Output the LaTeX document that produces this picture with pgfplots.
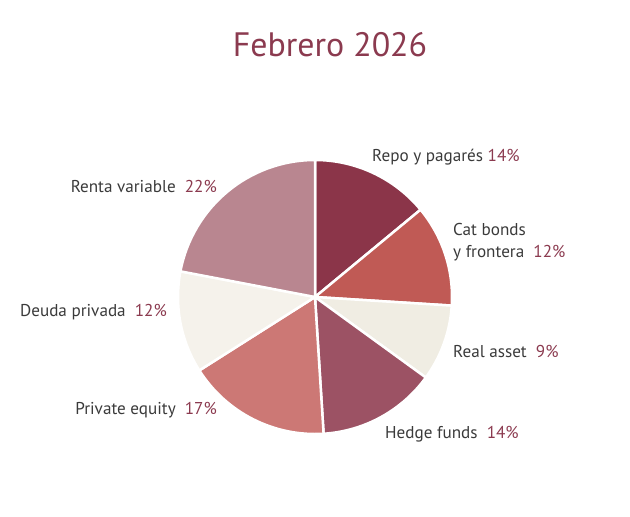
\documentclass[border=0pt]{standalone}
\usepackage{pgfplots}
\usepackage{pgfplotstable}
\pgfplotsset{compat=1.18}
\usepackage{fontspec}
\setmainfont{PT Sans}

\definecolor{cRepo}{HTML}{8B3549}
\definecolor{cCat}{HTML}{C05A55}
\definecolor{cReal}{HTML}{F0EDE3}
\definecolor{cHedge}{HTML}{9C5264}
\definecolor{cPriv}{HTML}{CC7875}
\definecolor{cDeuda}{HTML}{F5F2EB}
\definecolor{cRenta}{HTML}{B98690}
\definecolor{cTitle}{HTML}{8B3A4F}
\definecolor{cText}{HTML}{3A3A3A}

% share of each asset class, clockwise from 12 o'clock
\pgfplotstableread[col sep=comma]{
share,color
14,cRepo
12,cCat
9,cReal
14,cHedge
17,cPriv
12,cDeuda
22,cRenta
}\piedata

\newcommand{\pct}[1]{{\color{cTitle}#1\%}}
\tikzset{lbl/.style={text=cText, font=\fontsize{17.2}{22}\selectfont, inner sep=0pt}}

\begin{document}
\begin{tikzpicture}
\begin{axis}[
	scale only axis,
	width=630bp, height=516bp,
	xmin=0, xmax=630, ymin=0, ymax=516,
	y dir=reverse,
	hide axis,
	clip=false,
]
	\addplot[draw=none] coordinates {(0,0) (630,516)};

	\pgfplotstablegetrowsof{\piedata}
	\pgfmathtruncatemacro\lastrow{\pgfplotsretval-1}
	\def\angacc{90}
	\pgfplotsforeachungrouped \i in {0,...,\lastrow}{
		\pgfplotstablegetelem{\i}{share}\of\piedata \let\sh\pgfplotsretval
		\pgfplotstablegetelem{\i}{color}\of\piedata \let\col\pgfplotsretval
		\pgfmathsetmacro\angnext{\angacc-3.6*\sh}
		\edef\temp{\noexpand\fill[fill=\col, draw=white, line width=2.5bp, line join=round]
			(axis cs:315,297) -- ([shift={(\angacc:137bp)}]axis cs:315,297)
			arc[start angle=\angacc, end angle=\angnext, radius=137bp] -- cycle;}
		\temp
		\global\let\angacc\angnext
	}

	\node[text=cTitle, font=\fontsize{34}{40}\selectfont, inner sep=0pt] at (axis cs:330,45) {Febrero 2026};

	\node[lbl, anchor=west] at (axis cs:372,157) {Repo y pagarés \pct{14}};
	\node[lbl, anchor=west, align=left] at (axis cs:453,242) {Cat bonds\\y frontera\ \ \pct{12}};
	\node[lbl, anchor=west] at (axis cs:453,351) {Real asset\ \ \pct{9}};
	\node[lbl, anchor=west] at (axis cs:385,434) {Hedge funds\ \ \pct{14}};
	\node[lbl, anchor=east] at (axis cs:217,410) {Private equity\ \ \pct{17}};
	\node[lbl, anchor=east] at (axis cs:167,312) {Deuda privada\ \ \pct{12}};
	\node[lbl, anchor=east] at (axis cs:217,186) {Renta variable\ \ \pct{22}};
\end{axis}
\end{tikzpicture}
\end{document}
